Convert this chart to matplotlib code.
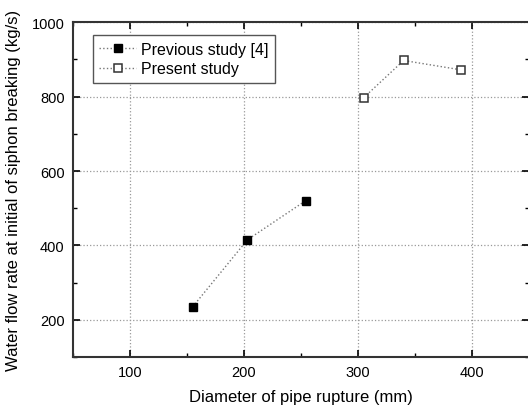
import matplotlib.pyplot as plt
from matplotlib.ticker import MultipleLocator

plt.rcParams['font.family'] = ['Liberation Sans', 'DejaVu Sans']

# Values
prev_diam = [155, 203, 254]
prev_flow = [235, 415, 520]
present_diam = [305, 340, 390]
present_flow = [797, 897, 872]

fig = plt.figure(figsize=(5.28, 4.06), dpi=100)
ax = fig.add_axes([0.138, 0.118, 0.864, 0.825])

ax.plot(prev_diam, prev_flow, linestyle=':', color='#777777', linewidth=1,
        marker='s', markersize=5.2, markerfacecolor='black', markeredgecolor='black',
        label='Previous study [4]')
ax.plot(present_diam, present_flow, linestyle=':', color='#777777', linewidth=1,
        marker='s', markersize=5.2, markerfacecolor='white', markeredgecolor='#333333',
        markeredgewidth=1.1, label='Present study')

ax.set_xlim(50, 450)
ax.set_ylim(100, 1000)
ax.xaxis.set_major_locator(MultipleLocator(100))
ax.xaxis.set_minor_locator(MultipleLocator(50))
ax.yaxis.set_major_locator(MultipleLocator(200))
ax.yaxis.set_minor_locator(MultipleLocator(100))
ax.tick_params(which='both', direction='in', top=True, right=True, labelsize=10.5)
ax.tick_params(which='major', length=5, width=1.2, pad=6)
ax.tick_params(which='minor', length=3, width=1)
ax.grid(True, which='major', linestyle=':', color='#999999', linewidth=0.9)

for s in ax.spines.values():
    s.set_linewidth(1.5)
    s.set_color('#333333')

ax.set_xlabel('Diameter of pipe rupture (mm)', fontsize=12, labelpad=7)
ax.set_ylabel('Water flow rate at initial of siphon breaking (kg/s)', fontsize=12, labelpad=8)

leg = ax.legend(loc='upper left', bbox_to_anchor=(0.044, 0.961), fontsize=11.5,
                fancybox=False, edgecolor='#555555', framealpha=1,
                handlelength=2.3, handletextpad=0.3, borderpad=0.4,
                labelspacing=0.3, borderaxespad=0)
leg.get_frame().set_linewidth(1)

fig.savefig('out.png', dpi=100)
